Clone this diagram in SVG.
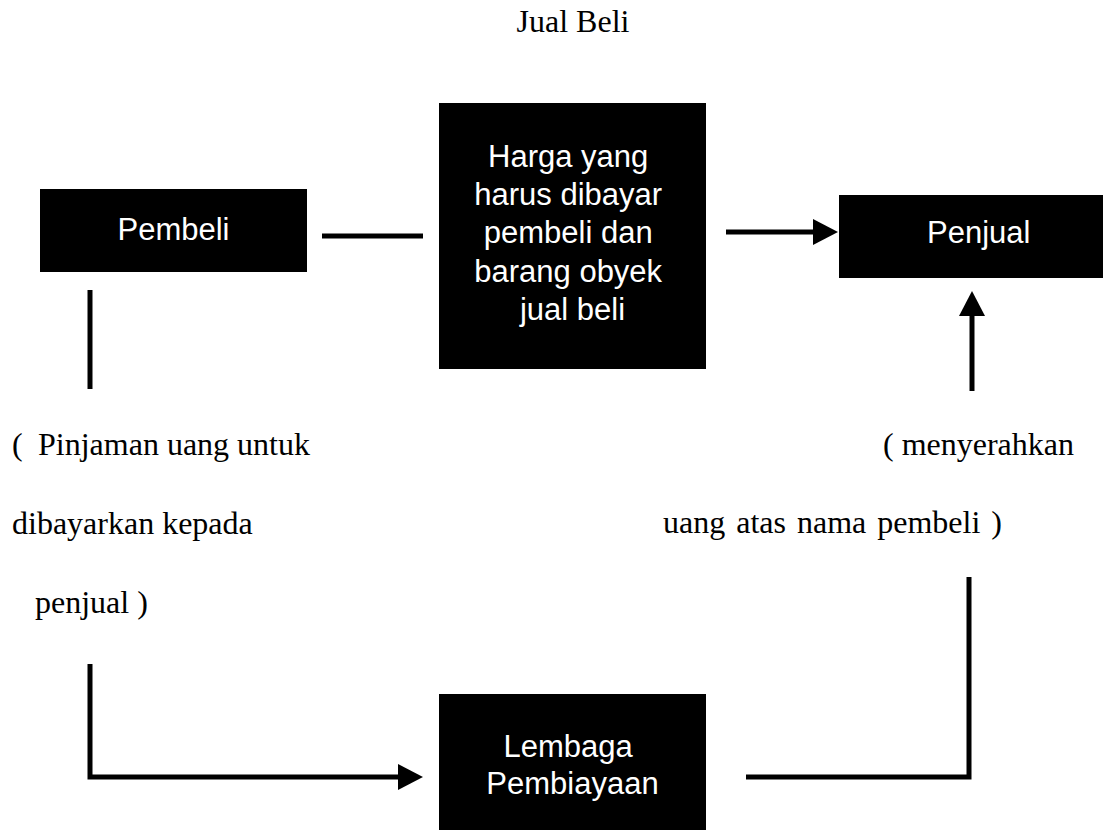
<svg xmlns="http://www.w3.org/2000/svg" width="1103" height="830" viewBox="0 0 1103 830">
  <style>
    .box { fill: #000; }
    .lbl { fill: #fff; font-family: "Liberation Sans", Arial, Helvetica, sans-serif; font-size: 31px; }
    .ser { fill: #000; font-family: "Liberation Serif", "Times New Roman", serif; font-size: 32px; }
    .conn { fill: none; stroke: #000; stroke-width: 5; }
  </style>
  <defs>
    <marker id="ah" markerUnits="userSpaceOnUse" markerWidth="25" markerHeight="26" refX="0" refY="13" orient="auto">
      <path d="M0,0 L25,13 L0,26 Z" fill="#000"/>
    </marker>
  </defs>
  <rect width="1103" height="830" fill="#fff"/>

  <text class="ser" x="573" y="32" text-anchor="middle">Jual Beli</text>

  <g id="pembeli">
    <rect class="box" x="40" y="189" width="267" height="83"/>
    <text class="lbl" x="173.5" y="240" text-anchor="middle">Pembeli</text>
  </g>

  <g id="harga">
    <rect class="box" x="439" y="103" width="267" height="266"/>
    <text class="lbl" text-anchor="middle">
      <tspan x="572.5" y="167">Harga yang</tspan>
      <tspan x="572.5" y="205">harus dibayar</tspan>
      <tspan x="572.5" y="243">pembeli dan</tspan>
      <tspan x="572.5" y="282">barang obyek</tspan>
      <tspan x="572.5" y="320">jual beli</tspan>
    </text>
  </g>

  <g id="penjual">
    <rect class="box" x="839" y="195" width="280" height="83"/>
    <text class="lbl" x="927" y="243">Penjual</text>
  </g>

  <g id="lembaga">
    <rect class="box" x="439" y="694" width="267" height="150"/>
    <text class="lbl" text-anchor="middle">
      <tspan x="572.5" y="757">Lembaga</tspan>
      <tspan x="572.5" y="794">Pembiayaan</tspan>
    </text>
  </g>

  <g id="label-left">
    <text class="ser"><tspan x="12" y="455">(</tspan><tspan x="38" y="455">Pinjaman uang untuk</tspan></text>
    <text class="ser" x="12" y="534">dibayarkan kepada</text>
    <text class="ser" x="35" y="613">penjual )</text>
  </g>

  <g id="label-right">
    <text class="ser" x="883" y="455">( menyerahkan</text>
    <text class="ser" x="663" y="533" word-spacing="3">uang atas nama pembeli )</text>
  </g>

  <g id="connectors">
    <line class="conn" x1="322" y1="236" x2="423" y2="236"/>
    <line class="conn" x1="726" y1="232" x2="813" y2="232" marker-end="url(#ah)"/>
    <line class="conn" x1="90" y1="290" x2="90" y2="389"/>
    <line class="conn" x1="972" y1="391" x2="972" y2="316" marker-end="url(#ah)"/>
    <path class="conn" d="M90,664 V777 H398" marker-end="url(#ah)"/>
    <path class="conn" d="M746,777 H969 V577"/>
  </g>
</svg>
